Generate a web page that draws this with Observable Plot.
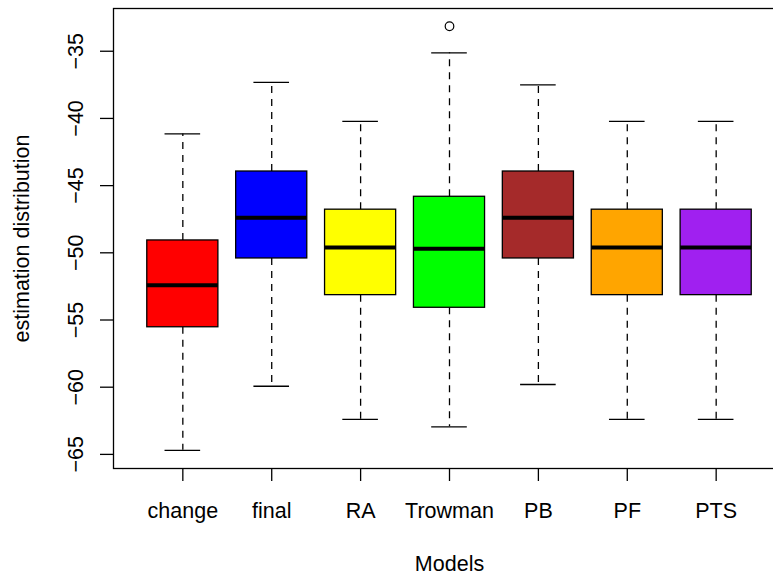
<!DOCTYPE html>
<html><head><meta charset="utf-8">
<script src="https://cdn.jsdelivr.net/npm/d3@7"></script>
<script src="https://cdn.jsdelivr.net/npm/@observablehq/plot@0.6"></script>
<style>
html,body{margin:0;padding:0;background:#fff;overflow:hidden}
</style></head><body><div id="chart"></div>
<script>
const models = ["change", "final", "RA", "Trowman", "PB", "PF", "PTS"];
const boxColors = ["#FF0000", "#0000FF", "#FFFF00", "#00FF00", "#A52A2A", "#FFA500", "#A020F0"];
const lowerWhisker = [-64.70, -59.93, -62.40, -62.95, -59.80, -62.40, -62.40];
const lowerQuartile = [-55.54, -50.42, -53.15, -54.09, -50.42, -53.15, -53.15];
const medians = [-52.41, -47.40, -49.61, -49.70, -47.40, -49.61, -49.61];
const upperQuartile = [-49.08, -43.95, -46.79, -45.83, -43.95, -46.79, -46.79];
const upperWhisker = [-41.15, -37.31, -40.22, -35.12, -37.50, -40.22, -40.22];
const outlierModels = ["Trowman"];
const outlierValues = [-33.14];
const yTicks = [-35, -40, -45, -50, -55, -60, -65];

const rows = models.map((m, i) => ({
  model: m, color: boxColors[i], lo: lowerWhisker[i], q1: lowerQuartile[i],
  med: medians[i], q3: upperQuartile[i], hi: upperWhisker[i]
}));
const outliers = outlierModels.map((m, i) => ({model: m, value: outlierValues[i]}));

const whisker = {stroke: "#000", strokeWidth: 1.3, strokeDasharray: "7,6"};
const cap = {stroke: "#000", strokeWidth: 1.3, insetLeft: 17.75, insetRight: 17.75};

const plot = Plot.plot({
  width: 773, height: 580,
  marginLeft: 113, marginRight: -12, marginTop: 8, marginBottom: 112,
  style: {fontFamily: "'Liberation Sans', Arial, sans-serif", fontSize: "21.5px", color: "#000", background: "#fff"},
  x: {type: "band", domain: models, paddingInner: 0.2, paddingOuter: 0.38, align: 0.5, round: false},
  y: {domain: [-66.05, -31.82]},
  color: {type: "identity"},
  marks: [
    Plot.ruleX(rows, {x: "model", y1: "q3", y2: "hi", ...whisker}),
    Plot.ruleX(rows, {x: "model", y1: "q1", y2: "lo", ...whisker}),
    Plot.tickY(rows, {x: "model", y: "hi", ...cap}),
    Plot.tickY(rows, {x: "model", y: "lo", ...cap}),
    Plot.barY(rows, {x: "model", y1: "q1", y2: "q3", fill: "color", stroke: "#000", strokeWidth: 1.3}),
    Plot.tickY(rows, {x: "model", y: "med", stroke: "#000", strokeWidth: 4}),
    Plot.dot(outliers, {x: "model", y: "value", r: 4.3, stroke: "#000", strokeWidth: 1.2, fill: "none"}),
    Plot.axisX({tickSize: 13, tickPadding: 21, label: null, stroke: "#000", strokeWidth: 1.3}),
    Plot.axisY({ticks: yTicks, tickSize: 13, tickPadding: 18, tickRotate: -90, textAnchor: "middle", lineAnchor: "bottom", label: null, stroke: "#000", strokeWidth: 1.3}),
    Plot.text(["Models"], {text: d => d, frameAnchor: "bottom", dy: 102, lineAnchor: "bottom", textAnchor: "middle"}),
    Plot.text(["estimation distribution"], {text: d => d, frameAnchor: "left", dx: -85, rotate: -90, lineAnchor: "bottom", textAnchor: "middle"}),
    Plot.frame({stroke: "#000", strokeWidth: 1.3})
  ]
});
document.getElementById("chart").appendChild(plot);
</script></body></html>
